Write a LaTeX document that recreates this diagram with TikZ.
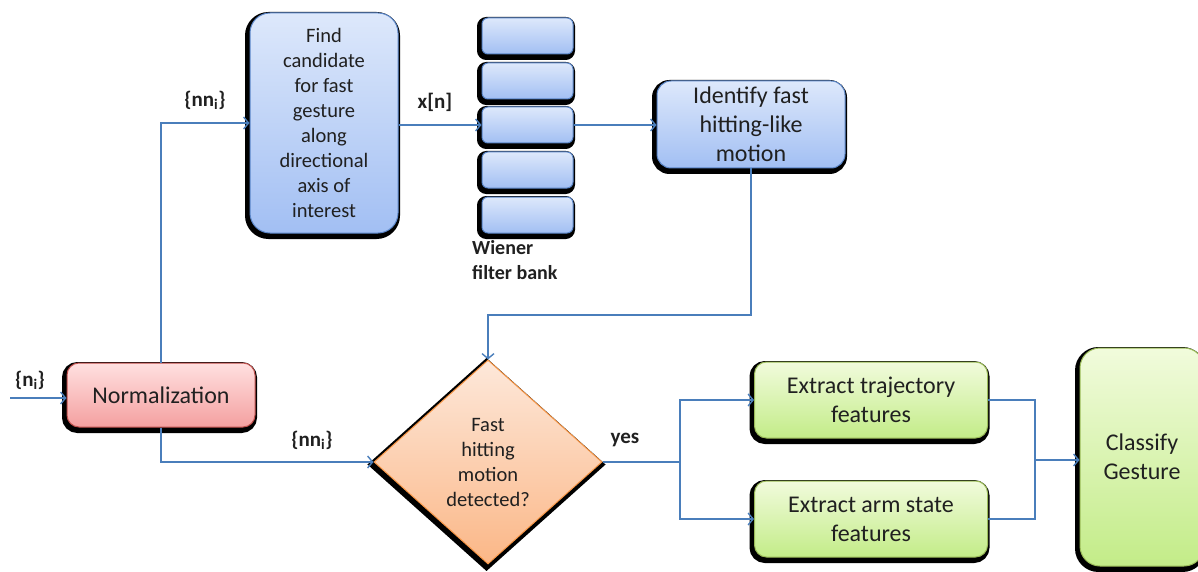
\documentclass[tikz,border=0pt]{standalone}
\usepackage{fontspec}
\setmainfont{Carlito}
\usetikzlibrary{shapes.geometric,arrows.meta}
\definecolor{conncol}{HTML}{4A7EBB}
\definecolor{bluetop}{HTML}{DDE8FB}
\definecolor{bluebot}{HTML}{A2BFF3}
\definecolor{blueedge}{HTML}{5B86C8}
\definecolor{pinktop}{HTML}{FFE0E0}
\definecolor{pinkbot}{HTML}{F4A0A0}
\definecolor{pinkedge}{HTML}{C0504D}
\definecolor{orangetop}{HTML}{FDE8DA}
\definecolor{orangebot}{HTML}{FBB787}
\definecolor{orangeedge}{HTML}{F79646}
\definecolor{greentop}{HTML}{F1FBDC}
\definecolor{greenbot}{HTML}{C3EC88}
\definecolor{greenedge}{HTML}{9BBB59}
\definecolor{txtcol}{HTML}{202020}
\tikzset{
  box/.style={rectangle, inner sep=2pt, align=center, line width=1pt, text=txtcol,
    preaction={draw=black, line width=7pt, transform canvas={xshift=-1.5pt, yshift=-2.5pt}}},
  bigtxt/.style={font=\fontsize{24}{29}\selectfont},
  smalltxt/.style={font=\fontsize{20.5}{25}\selectfont},
  bluebox/.style={box, draw=blueedge, top color=bluetop, bottom color=bluebot},
  pinkbox/.style={box, draw=pinkedge, top color=pinktop, bottom color=pinkbot},
  greenbox/.style={box, draw=greenedge, top color=greentop, bottom color=greenbot},
  filterbox/.style={bluebox, minimum width=91pt, minimum height=36pt, rounded corners=6pt},
  conn/.style={draw=conncol, line width=1.4pt},
  arr/.style={conn, -{Straight Barb[length=5pt,width=12pt,line width=1.4pt]}},
  lbl/.style={font=\fontsize{21}{25}\selectfont\bfseries, inner sep=0pt, text=txtcol}
}
\begin{document}
\begin{tikzpicture}[x=1pt,y=-1pt]
\useasboundingbox (0,0) rectangle (1198,572);
\begin{scope}
\clip (0,0) rectangle (1198,572);
% nodes
\node[pinkbox, bigtxt, minimum width=188pt, minimum height=64pt, rounded corners=12pt] (norm) at (161,395) {Normalization};
\node[bluebox, smalltxt, minimum width=148pt, minimum height=220pt, rounded corners=20pt] (find) at (324,123) {Find\\candidate\\for fast\\gesture\\along\\directional\\axis of\\interest};
\node[filterbox] (f1) at (527.5,36) {};
\node[filterbox] (f2) at (527.5,81) {};
\node[filterbox] (f3) at (527.5,125) {};
\node[filterbox] (f4) at (527.5,170) {};
\node[filterbox] (f5) at (527.5,215) {};
\node[bluebox, bigtxt, minimum width=188pt, minimum height=87pt, rounded corners=14pt] (ident) at (751,124.5) {Identify fast\\hitting-like\\motion};
\node[box, diamond, draw=orangeedge, top color=orangetop, bottom color=orangebot, smalltxt, inner sep=0pt, minimum width=228pt, minimum height=204pt] (dia) at (488,462) {Fast\\hitting\\motion\\detected?};
\node[greenbox, bigtxt, minimum width=233pt, minimum height=76pt, rounded corners=12pt] (traj) at (871,400) {Extract trajectory\\features};
\node[greenbox, bigtxt, minimum width=233pt, minimum height=76pt, rounded corners=12pt] (arm) at (871,519) {Extract arm state\\features};
\node[greenbox, bigtxt, minimum width=124pt, minimum height=218pt, rounded corners=20pt] (cls) at (1142,457) {Classify\\Gesture};
% labels
\node[lbl] (lni) at (30,380) {\{n\textsubscript{i}\}};
\node[lbl] (lnn1) at (205,100) {\{nn\textsubscript{i}\}};
\node[lbl] (lnn2) at (312,440) {\{nn\textsubscript{i}\}};
\node[lbl] (lx) at (435,102) {x[n]};
\node[lbl] (lyes) at (625,440) {yes};
\node[lbl, align=left, anchor=north west, font=\fontsize{20}{25}\selectfont\bfseries] (lwf) at (472,240) {Wiener\\filter bank};
% connectors
\coordinate (in) at (10,398);
\draw[arr] (in) -- (in -| norm.west);
\draw[arr] (norm.north) |- (find.west);
\draw[arr] (norm.south) |- (dia.west);
\draw[arr] (find.east |- f3) -- (f3.west);
\draw[arr] (f3.east) -- (ident.west |- f3);
\coordinate (bend) at (488,315);
\draw[arr] (ident.south) |- (bend) -- (dia.north);
\coordinate (split) at (680,462);
\draw[conn] (dia.east) -- (split);
\draw[arr] (split) |- (traj.west);
\draw[arr] (split) |- (arm.west);
\coordinate (join) at (1035,460);
\draw[conn] (traj.east) -| (join);
\draw[conn] (arm.east) -| (join);
\draw[arr] (join) -- (join -| cls.west);
\end{scope}
\end{tikzpicture}
\end{document}
